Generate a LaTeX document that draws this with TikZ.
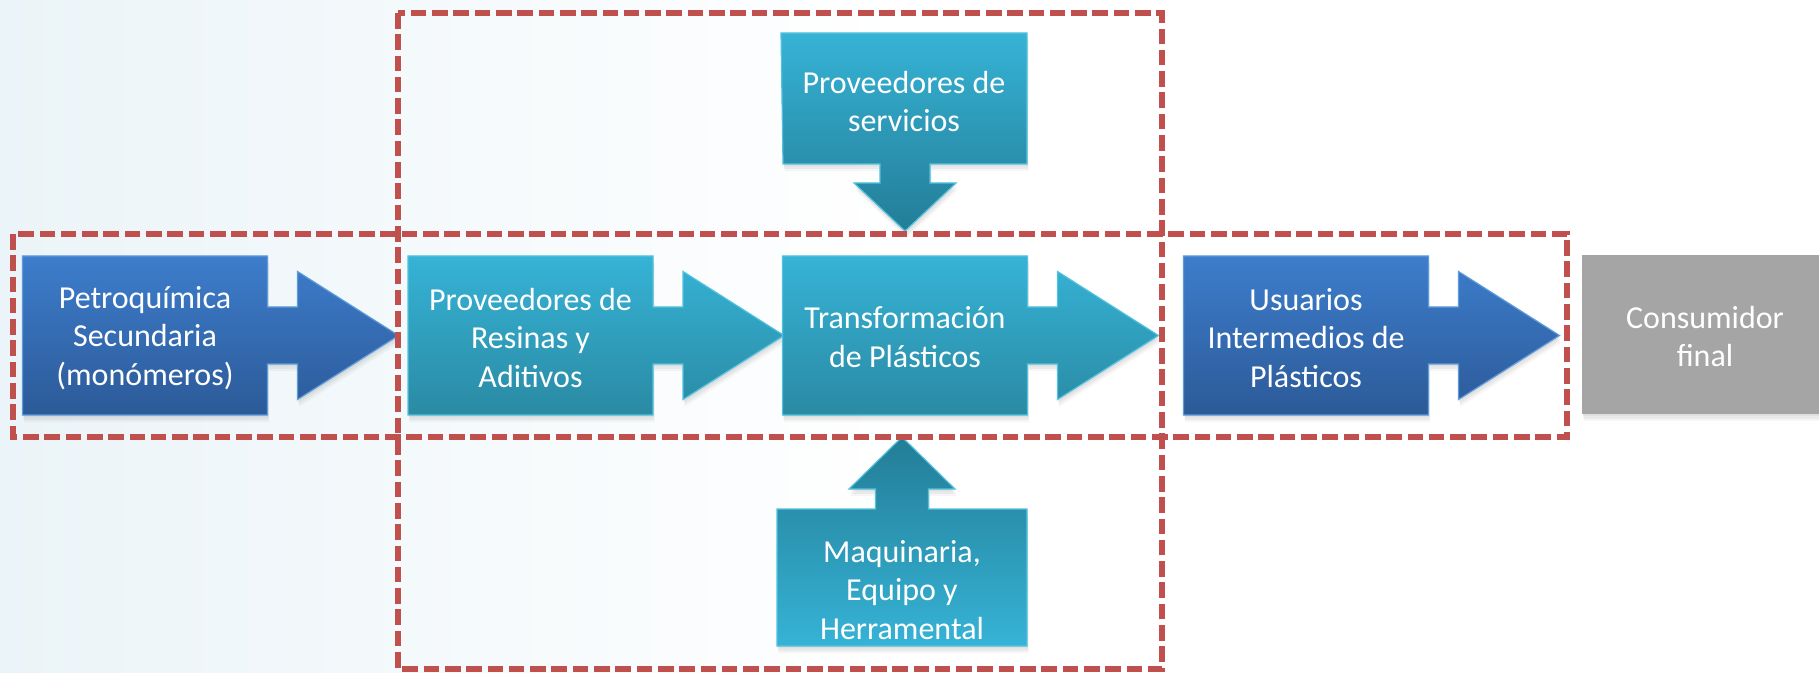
\documentclass[tikz,border=0pt]{standalone}
\usepackage{fontspec}
\setmainfont{Carlito}
\usetikzlibrary{calc,shadows}
\definecolor{blueTop}{HTML}{3D7DCC}
\definecolor{blueBot}{HTML}{2C5A98}
\definecolor{tealTop}{HTML}{36B3D6}
\definecolor{tealBot}{HTML}{2A8AA3}
\definecolor{tealDeep}{HTML}{237D96}
\definecolor{grayBox}{HTML}{A5A5A5}
\definecolor{frameRed}{HTML}{C0504D}
\definecolor{bgTint}{HTML}{EBF4F8}
\definecolor{edgeBlue}{HTML}{5E9BDA}
\definecolor{edgeTeal}{HTML}{52C2E0}
\pgfdeclarelayer{bg}
\pgfdeclarelayer{shapes}
\pgfsetlayers{bg,shapes,main}
\tikzset{
  label text/.style={text=white, align=center, inner sep=0pt,
    font=\fontsize{16}{19.3}\selectfont},
  shade shadow/.style={
    drop shadow={shadow xshift=0.4pt, shadow yshift=-1.2pt, opacity=0.10},
    drop shadow={shadow xshift=0.6pt, shadow yshift=-2.4pt, opacity=0.09},
    drop shadow={shadow xshift=0.8pt, shadow yshift=-3.6pt, opacity=0.07}},
  blue shape/.style={top color=blueTop, bottom color=blueBot, draw=edgeBlue, line width=0.6pt, shade shadow},
  teal shape/.style={top color=tealTop, bottom color=tealBot, draw=edgeTeal, line width=0.6pt, shade shadow},
  frame/.style={draw=frameRed, line width=2.65pt, dash pattern=on 7.8pt off 2.85pt}
}
\begin{document}
\begin{tikzpicture}[x=0.5pt,y=-0.5pt]
\useasboundingbox (0,0) rectangle (1819,673);
% text nodes
\node[label text] (petro) at (145,338) {Petroquímica\\Secundaria\\(monómeros)};
\node[label text] (resinas) at (530.5,338) {Proveedores de\\Resinas y\\Aditivos};
\node[label text] (transf) at (905,337) {Transformación\\de Plásticos};
\node[label text] (usuarios) at (1306,338) {Usuarios\\Intermedios de\\Plásticos};
\node[label text] (consumidor) at (1705,336.5) {Consumidor\\final};
\node[label text] (servicios) at (904,101.5) {Proveedores de\\servicios};
\node[label text] (maquinaria) at (902,590) {Maquinaria,\\Equipo y\\Herramental};
% frames
\draw[frame] (13,234) rectangle (1567,437);
\draw[frame] (398,13) rectangle (1162,669);
\begin{pgfonlayer}{bg}
  \fill[white] (0,0) rectangle (1819,673);
  \fill[left color=bgTint, right color=white] (0,0) rectangle (900,673);
\end{pgfonlayer}
\begin{pgfonlayer}{shapes}
  % right-pointing block arrows (box + arrow as one shape)
  \foreach \n/\st/\dy in {petro/blue shape/-2.5, resinas/teal shape/-2.5, transf/teal shape/-1.5, usuarios/blue shape/-2.5}{
    \path[\st] ($(\n.center)+(-122.5,-79.5+\dy)$) -- ++(245,0) -- ++(0,51) -- ++(30,0) -- ++(0,-35.5)
      -- ++(101,64) -- ++(-101,64) -- ++(0,-35.5) -- ++(-30,0) -- ++(0,51) -- ++(-245,0) -- cycle;
  }
  % consumidor
  \path[fill=grayBox, shade shadow] ($(consumidor.center)+(-123,-81.5)$) rectangle ($(consumidor.center)+(123,77.5)$);
  % servicios: box with down arrow
  \path[top color=tealTop, bottom color=tealDeep, draw=edgeTeal, line width=0.6pt, shade shadow]
    ($(servicios.center)+(-123,-68.5)$) -- ++(246,0) -- ++(0,131) -- ++(-97,0) -- ++(0,19)
    -- ++(26,0) -- ++(-51,48) -- ++(-51,-48) -- ++(26,0) -- ++(0,-19) -- ++(-97,0) -- cycle;
  % maquinaria: box with up arrow
  \path[top color=tealDeep, bottom color=tealTop, draw=edgeTeal, line width=0.6pt, shade shadow]
    ($(maquinaria.center)+(-125,56)$) -- ++(250,0) -- ++(0,-137) -- ++(-98.5,0) -- ++(0,-20)
    -- ++(26.5,0) -- ++(-53,-52) -- ++(-53,52) -- ++(26.5,0) -- ++(0,20) -- ++(-98.5,0) -- cycle;
\end{pgfonlayer}
\end{tikzpicture}
\end{document}
